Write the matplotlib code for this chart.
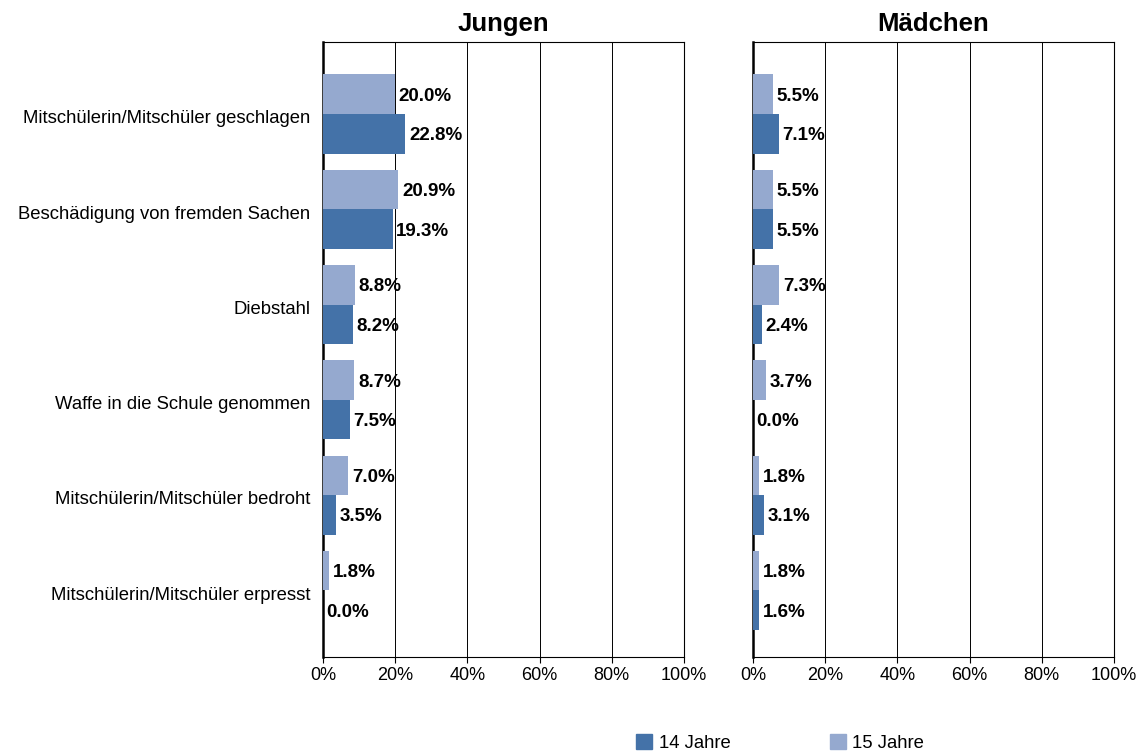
import matplotlib
matplotlib.use("Agg")
import matplotlib.pyplot as plt
from matplotlib.patches import Patch
import numpy as np

plt.rcParams['font.family'] = ['Liberation Sans', 'DejaVu Sans']

categories = ["Mitschülerin/Mitschüler geschlagen",
              "Beschädigung von fremden Sachen",
              "Diebstahl",
              "Waffe in die Schule genommen",
              "Mitschülerin/Mitschüler bedroht",
              "Mitschülerin/Mitschüler erpresst"]
jungen_14 = [22.8, 19.3, 8.2, 7.5, 3.5, 0.0]
jungen_15 = [20.0, 20.9, 8.8, 8.7, 7.0, 1.8]
maedchen_14 = [7.1, 5.5, 2.4, 0.0, 3.1, 1.6]
maedchen_15 = [5.5, 5.5, 7.3, 3.7, 1.8, 1.8]
ticks = [0, 20, 40, 60, 80, 100]

c14 = '#4472A8'
c15 = '#95A9CF'

fig = plt.figure(figsize=(11.39, 7.52), dpi=100)
ax1 = fig.add_axes([323/1139, 1-657/752, 361/1139, 615/752])
ax2 = fig.add_axes([753/1139, 1-657/752, 361/1139, 615/752])

y = np.arange(len(categories))
h = 0.415

def draw(ax, v14, v15, title, show_labels):
    ax.barh(y - h/2, v15, height=h, color=c15, zorder=3)
    ax.barh(y + h/2, v14, height=h, color=c14, zorder=3)
    for yi, v in zip(y, v15):
        ax.text(v + 1.0, yi - h/2, f"{v:.1f}%", va='center_baseline', ha='left',
                fontsize=13.5, fontweight='bold', zorder=4)
    for yi, v in zip(y, v14):
        ax.text(v + 1.0, yi + h/2, f"{v:.1f}%", va='center_baseline', ha='left',
                fontsize=13.5, fontweight='bold', zorder=4)
    ax.set_xlim(0, 100)
    ax.set_ylim(5.70, -0.756)
    ax.set_xticks(ticks)
    ax.set_xticklabels([f"{t}%" for t in ticks], fontsize=13)
    ax.set_yticks(y + 0.03)
    if show_labels:
        ax.set_yticklabels(categories, fontsize=13.3)
    else:
        ax.set_yticklabels([])
    ax.tick_params(axis='y', length=0, pad=9)
    ax.tick_params(axis='x', length=4, width=0.8, direction='out', pad=3)
    ax.grid(axis='x', color='black', linewidth=0.7, zorder=0)
    for s in ['top', 'right', 'bottom']:
        ax.spines[s].set_linewidth(0.8)
    ax.spines['left'].set_linewidth(1.8)
    ax.set_title(title, fontsize=18.5, fontweight='bold', pad=8)

draw(ax1, jungen_14, jungen_15, "Jungen", True)
draw(ax2, maedchen_14, maedchen_15, "Mädchen", False)

handles = [Patch(color=c14, label="14 Jahre"), Patch(color=c15, label="15 Jahre")]
fig.legend(handles=handles, loc='center', bbox_to_anchor=(0.685, 1-743/752),
           ncol=2, frameon=False, fontsize=13.3, columnspacing=5.4,
           handlelength=0.85, handleheight=0.85, handletextpad=0.35)

fig.savefig("out.png", dpi=100)
